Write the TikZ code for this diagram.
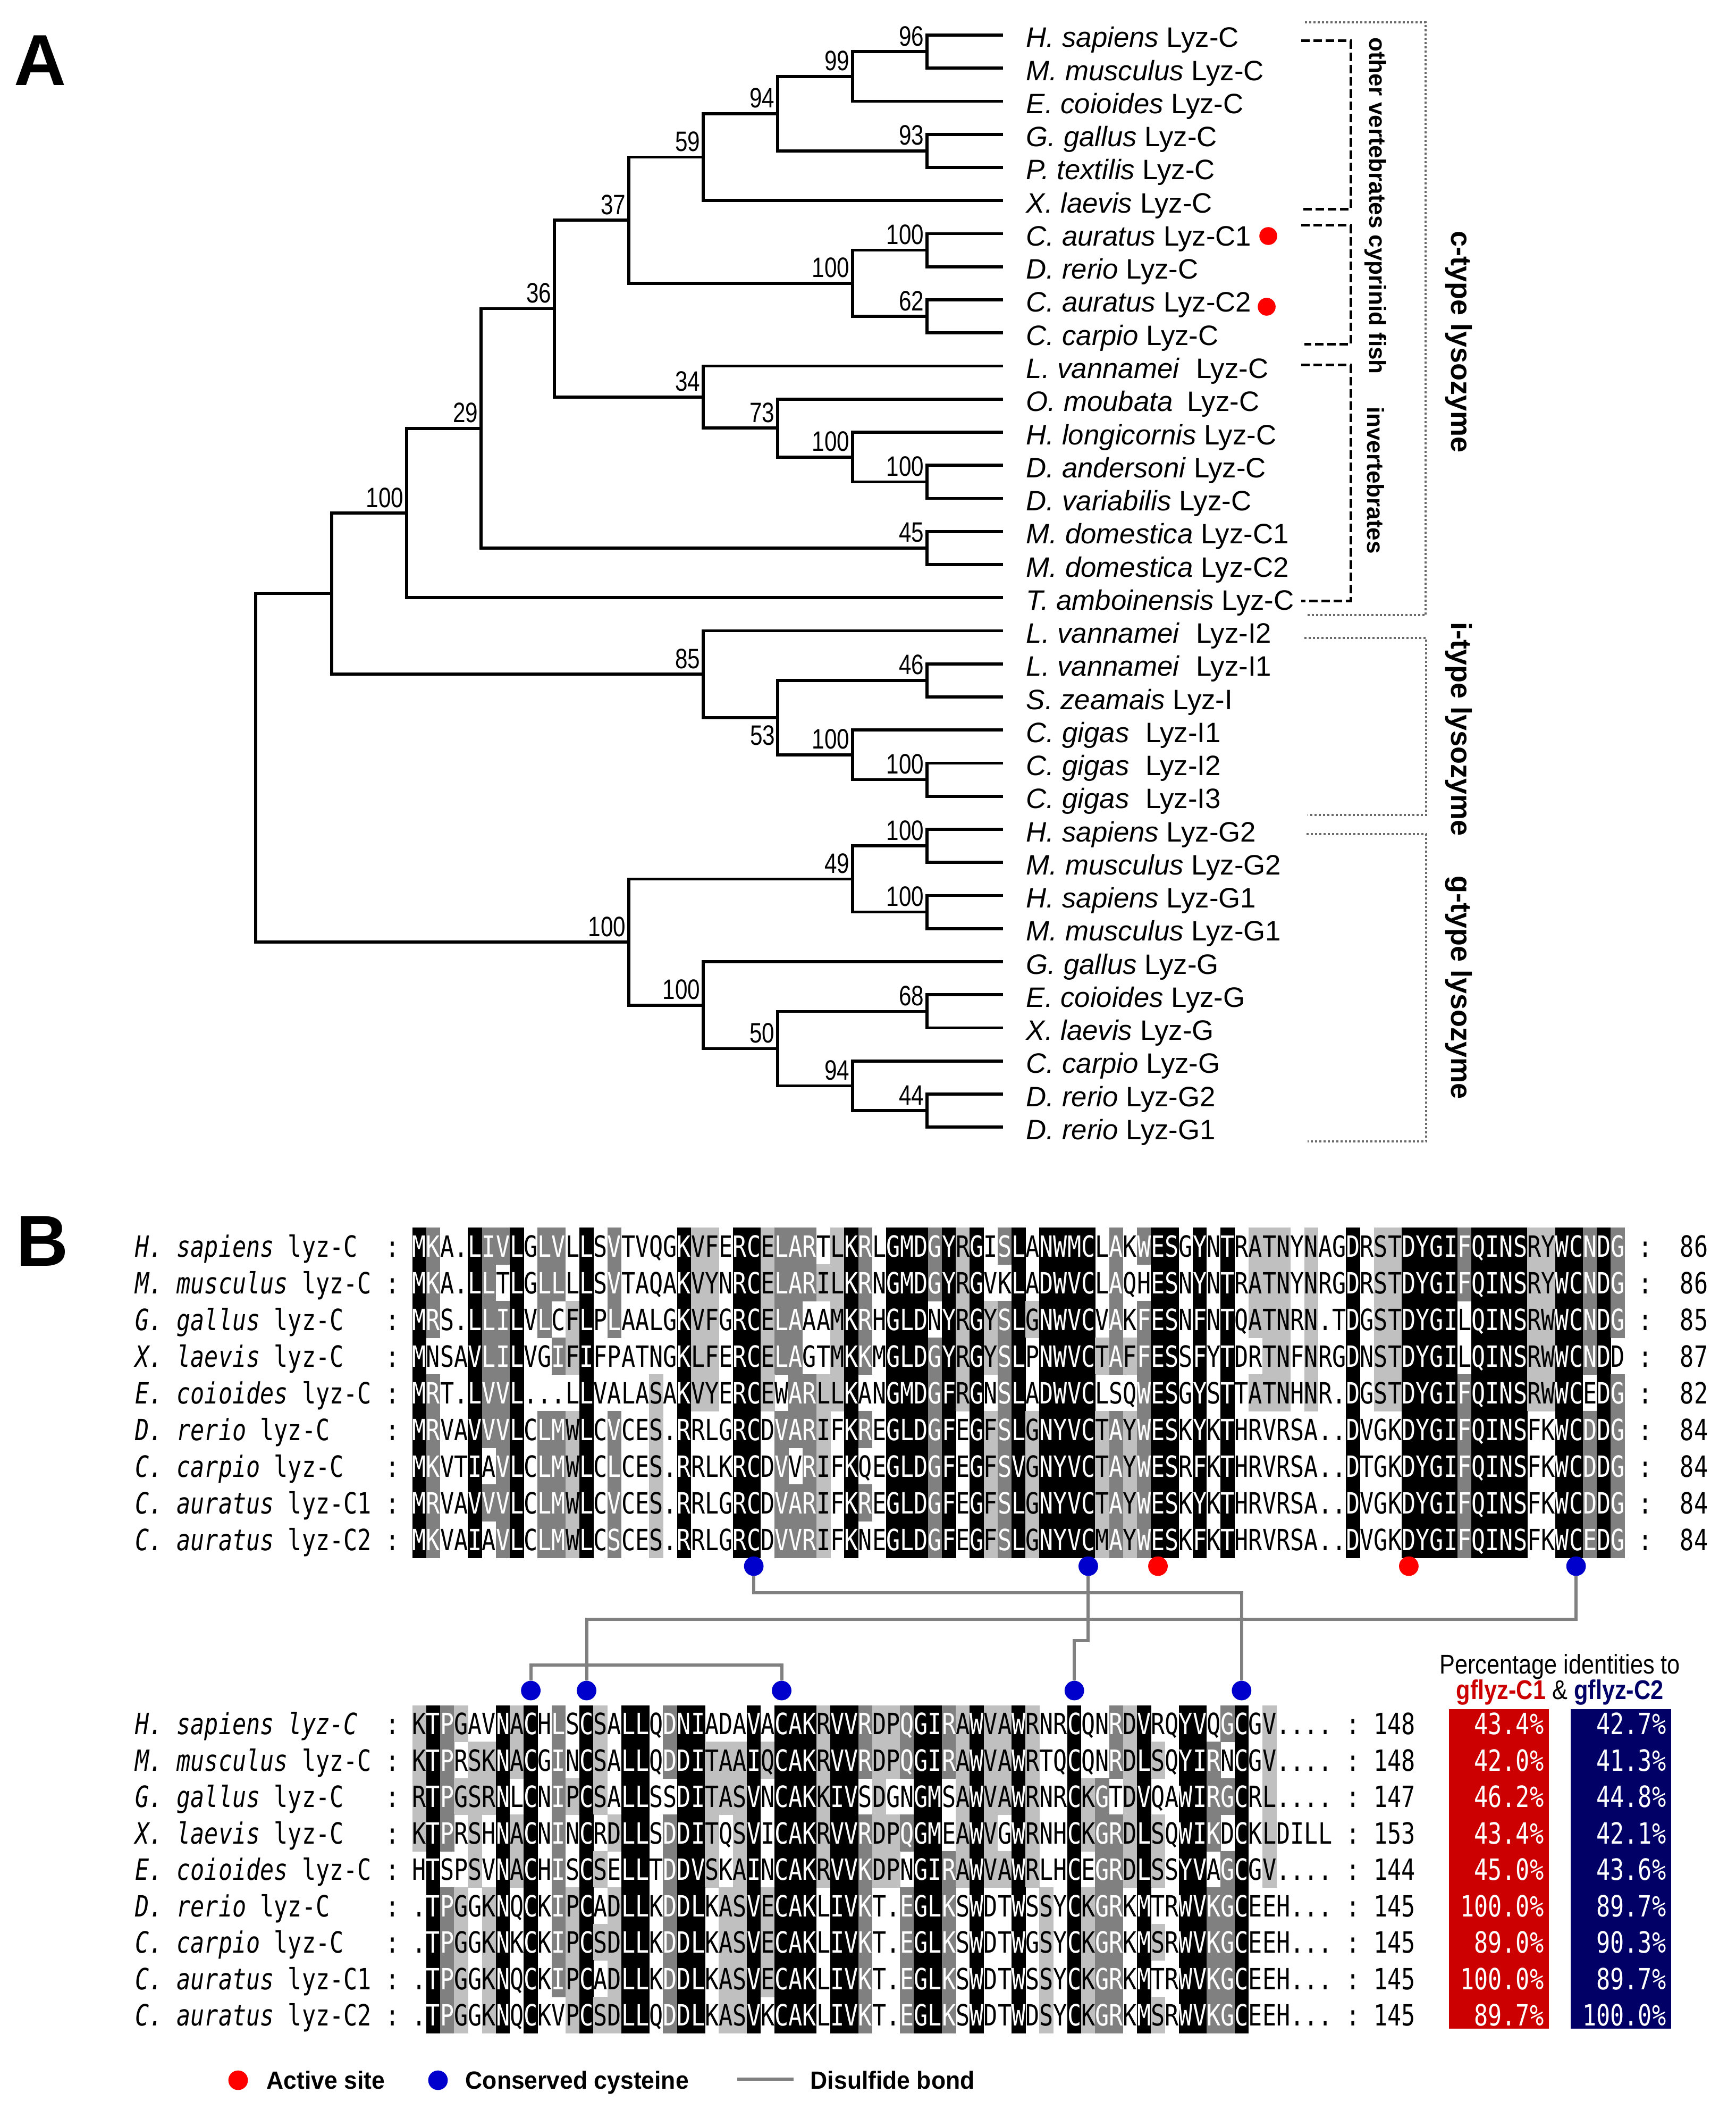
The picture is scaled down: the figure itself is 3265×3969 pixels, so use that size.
\documentclass[tikz,border=0pt]{standalone}
\usepackage{fontspec}
\setmainfont{Liberation Sans}
\newfontfamily\alnfont[FakeStretch=0.79]{DejaVu Sans Mono}
\newfontfamily\bsfont[FakeStretch=0.8]{Liberation Sans}
\newfontfamily\pctfont[FakeStretch=0.85]{Liberation Sans}
\newfontfamily\legfont[FakeStretch=0.95]{Liberation Sans}
\newcommand\alnsize{\fontsize{13.75pt}{15pt}\selectfont}

\definecolor{shadeL}{RGB}{192,192,192}
\definecolor{shadeD}{RGB}{128,128,128}
\definecolor{bondgray}{RGB}{128,128,128}
\definecolor{dotred}{RGB}{255,0,0}
\definecolor{dotblue}{RGB}{0,0,204}
\definecolor{boxred}{RGB}{204,0,0}
\definecolor{boxnavy}{RGB}{0,0,102}
\definecolor{dotgray}{RGB}{105,105,105}

\newcount\alncol
\def\alnxo{775.7}
\def\alnw{26.22}
\def\alnh{69}
\long\def\alngobble#1{}
\long\def\alnfirst#1{#1}
\newcommand\alnrow[4]{\alncol=0 \def\alny{#1}\def\alnid{#2}\alnloop#3\alnend#4\alnend}
\def\alnloop#1#2\alnend#3#4\alnend{%
  \alncell{#1}{#3}%
  \advance\alncol by 1\relax
  \ifx\relax#2\relax\expandafter\alngobble\else\expandafter\alnfirst\fi
  {\alnloop#2\alnend#4\alnend}}
\def\alncell#1#2{%
  \ifcase#2\relax\def\alnbg{white}\def\alnfg{black}%
  \or\def\alnbg{shadeL}\def\alnfg{black}%
  \or\def\alnbg{shadeD}\def\alnfg{white}%
  \else\def\alnbg{black}\def\alnfg{white}\fi
  \pgfmathsetmacro\alnx{\alnxo+\the\alncol*\alnw}%
  \ifnum#2>0\relax
    \fill[\alnbg] (\alnx-0.2,\alny-\alnh/2-0.3) rectangle (\alnx+\alnw+0.2,\alny+\alnh/2+0.3);%
  \fi
  \node[resid,text=\alnfg] (\alnid c\the\alncol) at (\alnx+\alnw/2,\alny) {#1};}

\newcommand\seqlab[7]{%
  \node[alnname] (#1name) at (253.4,#2+20) {\textit{#3} #4};
  \node[alncolon] (#1colA) at (738.5,#2+20) {:};
  \node[alncolon] (#1colB) at (#5,#2+20) {:};
  \node[alnnum] (#1num) at (#6,#2+20) {#7};}
\newcommand\pctlab[4]{%
  \node[pct] (#1pa) at (2905,#2+20) {#3};
  \node[pct] (#1pb) at (3135,#2+20) {#4};}

\begin{document}
\begin{tikzpicture}[x=0.25pt,y=-0.25pt,
  branch/.style={line width=1.4pt,line join=miter},
  leaflab/.style={anchor=base west,inner sep=0pt,font=\fontsize{13.2pt}{15pt}\selectfont},
  boot/.style={anchor=base east,inner sep=0pt,font=\bsfont\fontsize{13.2pt}{15pt}\selectfont},
  dashbr/.style={line width=1.25pt,dash pattern=on 4pt off 1.75pt},
  dotbr/.style={line width=1pt,dotgray,dash pattern=on 1pt off 1pt},
  brlab/.style={font=\bfseries\fontsize{11pt}{13pt}\selectfont,inner sep=0pt},
  typelab/.style={font=\bfseries\fontsize{13.5pt}{15pt}\selectfont,inner sep=0pt},
  resid/.style={font=\alnfont\alnsize,inner sep=0pt,text height=10pt,text depth=0pt},
  alnname/.style={font=\alnfont\alnsize,inner sep=0pt,anchor=base west},
  alncolon/.style={font=\alnfont\alnsize,inner sep=0pt,anchor=base},
  alnnum/.style={font=\alnfont\alnsize,inner sep=0pt,anchor=base east},
  pct/.style={font=\alnfont\alnsize,inner sep=0pt,anchor=base east,text=white},
  cysdot/.style={circle,fill=dotblue,minimum size=9.2pt,inner sep=0pt},
  actdot/.style={circle,fill=dotred,minimum size=9.2pt,inner sep=0pt},
  bond/.style={line width=1.5pt,bondgray},
  panel/.style={font=\bfseries\fontsize{34pt}{36pt}\selectfont,inner sep=0pt,anchor=base west},
  legtxt/.style={font=\legfont\bfseries\fontsize{11.7pt}{13pt}\selectfont,inner sep=0pt,anchor=base west},
  hdr/.style={font=\pctfont\fontsize{12.75pt}{14pt}\selectfont,inner sep=0pt,anchor=base}
]
\fill[white] (0,0) rectangle (3265,3969);
\path[use as bounding box] (0,0) rectangle (3265,3969);

% ---------------- Panel A : tree ----------------
\node[panel] (pA) at (26,161) {A};

\foreach \i/\yy/\spn/\gnm in {
 0/66/H. sapiens/Lyz-C, 1/128.25/M. musculus/Lyz-C, 2/190.5/E. coioides/Lyz-C,
 3/252.75/G. gallus/Lyz-C, 4/315/P. textilis/Lyz-C, 5/377.25/X. laevis/Lyz-C,
 6/439.5/C. auratus/Lyz-C1, 7/501.75/D. rerio/Lyz-C, 8/564/C. auratus/Lyz-C2,
 9/626.25/C. carpio/Lyz-C, 10/688.5/L. vannamei/\hspace{4pt}Lyz-C, 11/750.75/O. moubata/\hspace{3pt}Lyz-C,
 12/813/H. longicornis/Lyz-C, 13/875.25/D. andersoni/Lyz-C, 14/937.5/D. variabilis/Lyz-C,
 15/999.75/M. domestica/Lyz-C1, 16/1062/M. domestica/Lyz-C2, 17/1124.25/T. amboinensis/Lyz-C,
 18/1186.5/L. vannamei/\hspace{4pt}Lyz-I2, 19/1248.75/L. vannamei/\hspace{4pt}Lyz-I1, 20/1311/S. zeamais/Lyz-I,
 21/1373.25/C. gigas/\hspace{4pt}Lyz-I1, 22/1435.5/C. gigas/\hspace{4pt}Lyz-I2, 23/1497.75/C. gigas/\hspace{4pt}Lyz-I3,
 24/1560/H. sapiens/Lyz-G2, 25/1622.25/M. musculus/Lyz-G2, 26/1684.5/H. sapiens/Lyz-G1,
 27/1746.75/M. musculus/Lyz-G1, 28/1809/G. gallus/Lyz-G, 29/1871.25/E. coioides/Lyz-G,
 30/1933.5/X. laevis/Lyz-G, 31/1995.75/C. carpio/Lyz-G, 32/2058/D. rerio/Lyz-G2,
 33/2120.25/D. rerio/Lyz-G1}
{
  \coordinate (L\i) at (1887,\yy);
  \node[leaflab] (lab\i) at (1930,\yy+23) {\textit{\spn} \gnm};
}

\foreach \n/\x/\y/\b in {
 n96/1744/97.1/96, n99/1604/143.8/99, n93/1744/283.9/93, n94/1463/213.9/94,
 n59/1323/295.6/59, n100a/1744/470.6/100, n62/1744/595.1/62, n100b/1604/532.9/100,
 n37/1183/414.2/37, n100c/1744/906.4/100, n100d/1604/859.7/100, n73/1463/805.2/73,
 n34/1323/746.9/34, n36/1043/580.5/36, n45/1744/1030.9/45, n29/905/805.7/29,
 n100e/765/965/100, n46/1744/1279.9/46, n100f/1744/1466.6/100, n100g/1604/1419.9/100,
 n85/1323/1268.2/85, n100h/1744/1591.1/100, n100i/1744/1715.6/100, n49/1604/1653.4/49,
 n68/1744/1902.4/68, n44/1744/2089.1/44, n94b/1604/2042.4/94, n50/1463/1972.4/50,
 n100j/1323/1890.7/100, n100k/1183/1772.1/100}
{
  \coordinate (\n) at (\x,\y);
  \node[boot] (b\n) at (\x-5,\y-11) {\b};
}
\coordinate (n53) at (1463,1349.9);
\node[boot,anchor=north east] (bn53) at (1459,1364) {53};
\coordinate (nX) at (624,1116.6);
\coordinate (root) at (481,1444.3);

\foreach \p/\c in {root/nX, root/n100k, nX/n100e, nX/n85, n100e/n29, n100e/L17,
 n29/n36, n29/n45, n36/n37, n36/n34, n37/n59, n37/n100b, n59/n94, n59/L5,
 n94/n99, n94/n93, n99/n96, n99/L2, n96/L0, n96/L1, n93/L3, n93/L4,
 n100b/n100a, n100b/n62, n100a/L6, n100a/L7, n62/L8, n62/L9,
 n34/L10, n34/n73, n73/L11, n73/n100d, n100d/L12, n100d/n100c, n100c/L13, n100c/L14,
 n45/L15, n45/L16, n85/L18, n85/n53, n53/n46, n53/n100g, n46/L19, n46/L20,
 n100g/L21, n100g/n100f, n100f/L22, n100f/L23,
 n100k/n49, n100k/n100j, n49/n100h, n49/n100i, n100h/L24, n100h/L25, n100i/L26, n100i/L27,
 n100j/L28, n100j/n50, n50/n68, n50/n94b, n68/L29, n68/L30, n94b/L31, n94b/n44, n44/L32, n44/L33}
{ \draw[branch] (\p) |- (\c); }

\node[circle,fill=dotred,minimum size=8.4pt,inner sep=0pt] (rdC1) at (2386,444) {};
\node[circle,fill=dotred,minimum size=8.4pt,inner sep=0pt] (rdC2) at (2383,577) {};

% brackets
\draw[dashbr] (2448,77) -- (2541,77) -- (2541,394) -- (2448,394);
\draw[dashbr] (2448,424) -- (2541,424) -- (2541,648) -- (2454,648);
\draw[dashbr] (2448,687) -- (2541,687) -- (2541,1130) -- (2448,1130);
\draw[dotbr] (2455,42.5) -- (2682,42.5) -- (2682,1157) -- (2460,1157);
\draw[dotbr] (2454,1200) -- (2683,1200) -- (2683,1533) -- (2460,1533);
\draw[dotbr] (2458,1568.6) -- (2683,1568.6) -- (2683,2146.6) -- (2460,2146.6);

\node[brlab,rotate=-90] (lbOV) at (2588,387) {other vertebrates cyprinid fish};
\node[brlab,rotate=-90] (lbInv) at (2588,903.5) {invertebrates};
\node[typelab,rotate=-90] (lbC) at (2744,643.5) {c-type lysozyme};
\node[typelab,rotate=-90] (lbI) at (2744,1372) {i-type lysozyme};
\node[typelab,rotate=-90] (lbG) at (2744,1858) {g-type lysozyme};

% ---------------- Panel B : alignment ----------------
\node[panel] (pB) at (30,2381) {B};

\def\alnh{69}
\alnrow{2344}{ta}{MKA.LIVLGL VLLSVTVQGK VFERCELART LKRLGMDGYR GISLANWMCL AKWESGYNTR ATNYNAGDRS TDYGIFQINS RYWCNDG}{3200322302 2030200003 1103312220 1320333231 3023033330 2023303030 1110100301 1333323333 1133232}
\alnrow{2413}{tb}{MKA.LLTLGL LLLSVTAQAK VYNRCELARI LKRNGMDGYR GVKLADWVCL AQHESNYNTR ATNYNRGDRS TDYGIFQINS RYWCNDG}{3200320302 2030200003 1103312221 1320333231 3003033330 2003303030 1110100301 1333323333 1133232}
\alnrow{2482}{tc}{MRS.LLILVL CFLPLAALGK VFGRCELAAA MKRHGLDNYR GYSLGNWVCV AKFESNFNTQ ATNRN.TDGS TDYGILQINS RWWCNDG}{3200322302 0130200003 1103312200 1320333031 3123133330 2023303030 1110100301 1333303333 1133232}
\alnrow{2551}{td}{MNSAVLILVG IFIFPATNGK LFERCELAGT MKKMGLDGYR GYSLPNWVCT AFFESSFYTD RTNFNRGDNS TDYGILQINS RWWCNDD}{3000322300 2130000003 1103312200 1320333231 3123033331 2123303030 0110100301 1333303333 1133230}
\alnrow{2620}{te}{MRT.LVVL.. .LLVALASAK VYERCEWARL LKANGMDGFR GNSLADWVCL SQWESGYSTT ATNHNR.DGS TDYGIFQINS RWWCEDG}{3200322300 0030000103 1103310221 1300333231 3023033330 0023303030 1110100301 1333323333 1133032}
\alnrow{2689}{tf}{MRVAVVVLCL MWLCVCES.R RLGRCDVARI FKREGLDGFE GFSLGNYVCT AYWESKYKTH RVRSA..DVG KDYGIFQINS FKWCDDG}{3200322302 2130200103 0003302221 0320333230 3123133331 2123303030 0000000300 0333323333 0033232}
\alnrow{2758}{tg}{MKVTIAVLCL MWLCLCES.R RLKRCDVVRI FKQEGLDGFE GFSVGNYVCT AYWESRFKTH RVRSA..DTG KDYGIFQINS FKWCDDG}{3200302302 2130200103 0003302021 0300333230 3123133331 2123303030 0000000300 0333323333 0033232}
\alnrow{2827}{th}{MRVAVVVLCL MWLCVCES.R RLGRCDVARI FKREGLDGFE GFSLGNYVCT AYWESKYKTH RVRSA..DVG KDYGIFQINS FKWCDDG}{3200322302 2130200103 0003302221 0320333230 3123133331 2123303030 0000000300 0333323333 0033232}
\alnrow{2896}{ti}{MKVAIAVLCL MWLCSCES.R RLGRCDVVRI FKNEGLDGFE GFSLGNYVCM AYWESKFKTH RVRSA..DVG KDYGIFQINS FKWCEDG}{3200302302 2130200103 0003302221 0300333230 3123133331 2123303030 0000000300 0333323333 0033232}

\seqlab{ta}{2344}{H. sapiens}{lyz-C}{3096}{3214}{86}
\seqlab{tb}{2413}{M. musculus}{lyz-C}{3096}{3214}{86}
\seqlab{tc}{2482}{G. gallus}{lyz-C}{3096}{3214}{85}
\seqlab{td}{2551}{X. laevis}{lyz-C}{3096}{3214}{87}
\seqlab{te}{2620}{E. coioides}{lyz-C}{3096}{3214}{82}
\seqlab{tf}{2689}{D. rerio}{lyz-C}{3096}{3214}{84}
\seqlab{tg}{2758}{C. carpio}{lyz-C}{3096}{3214}{84}
\seqlab{th}{2827}{C. auratus}{lyz-C1}{3096}{3214}{84}
\seqlab{ti}{2896}{C. auratus}{lyz-C2}{3096}{3214}{84}

\node[cysdot] (tdA) at (1418.1,2946) {};
\node[cysdot] (tdB) at (2047.4,2946) {};
\node[cysdot] (tdC) at (2965.1,2946) {};
\node[actdot] (trA) at (2178.5,2946) {};
\node[actdot] (trB) at (2650.4,2946) {};

\def\alnh{68.5}
\alnrow{3242.5}{ba}{KTPGAVNACH LSCSALLQDN IADAVACAKR VVRDPQGIRA WVAWRNRCQN RDVRQYVQGC GV....}{1321003130 2031033023 3000303331 3321123321 3113100300 2130033023 010000}
\alnrow{3311}{bb}{KTPRSKNACG INCSALLQDD ITAAIQCAKR VVRDPQGIRA WVAWRTQCQN RDLSQYIRNC GV....}{1320113130 2031033023 3111313331 3321123321 3113100300 2131033203 010000}
\alnrow{3379.5}{bc}{RTPGSRNLCN IPCSALLSSD ITASVNCAKK IVSDGNGMSA WVAWRNRCKG TDVQAWIRGC RL....}{1321113030 2131033003 3111303331 3301003301 3113100312 0130033223 010000}
\alnrow{3448}{bd}{KTPRSHNACN INCRDLLSDD ITQSVICAKR VVRDPQGMEA WVGWRNHCKG RDLSQWIKDC KLDILL}{1320103130 2030133023 3101303331 3321123301 3103100312 2131033203 010000}
\alnrow{3516.5}{be}{HTSPSVNACH ISCSELLTDD VSKAINCAKR VVKDPNGIRA WVAWRLHCEG RDLSSYVAGC GV....}{0300103130 2031033023 3101303331 3321103321 3113100302 2131033023 010000}
\alnrow{3585}{bf}{.TPGGKNQCK IPCADLLKDD LKASVECAKL IVKT.EGLKS WDTWSSYCKG RKMTRWVKGC EEH...}{0321013030 2130133023 3011313330 3320023320 3003010312 2030033223 000000}
\alnrow{3653.5}{bg}{.TPGGKNKCK IPCSDLLKDD LKASVECAKL IVKT.EGLKS WDTWGSYCKG RKMSRWVKGC EEH...}{0321013030 2131133023 3011313330 3320023320 3003010312 2031033223 000000}
\alnrow{3722}{bh}{.TPGGKNQCK IPCADLLKDD LKASVECAKL IVKT.EGLKS WDTWSSYCKG RKMTRWVKGC EEH...}{0321013030 2130133023 3011313330 3320023320 3003010312 2030033223 000000}
\alnrow{3790.5}{bi}{.TPGGKNQCK VPCSDLLQDD LKASVKCAKL IVKT.EGLKS WDTWDSYCKG RKMSRWVKGC EEH...}{0321013030 0131133023 3011303330 3320023320 3003010312 2031033223 000000}

\seqlab{ba}{3242.5}{H. sapiens}{\textit{lyz-C}}{2545.5}{2663.5}{148}
\seqlab{bb}{3311}{M. musculus}{lyz-C}{2545.5}{2663.5}{148}
\seqlab{bc}{3379.5}{G. gallus}{lyz-C}{2545.5}{2663.5}{147}
\seqlab{bd}{3448}{X. laevis}{lyz-C}{2545.5}{2663.5}{153}
\seqlab{be}{3516.5}{E. coioides}{lyz-C}{2545.5}{2663.5}{144}
\seqlab{bf}{3585}{D. rerio}{lyz-C}{2545.5}{2663.5}{145}
\seqlab{bg}{3653.5}{C. carpio}{lyz-C}{2545.5}{2663.5}{145}
\seqlab{bh}{3722}{C. auratus}{lyz-C1}{2545.5}{2663.5}{145}
\seqlab{bi}{3790.5}{C. auratus}{lyz-C2}{2545.5}{2663.5}{145}

\node[cysdot] (bd9) at (998.6,3180) {};
\node[cysdot] (bd13) at (1103.5,3180) {};
\node[cysdot] (bd27) at (1470.5,3180) {};
\node[cysdot] (bd48) at (2021.2,3180) {};
\node[cysdot] (bd60) at (2335.8,3180) {};

% disulfide bonds
\draw[bond] (tdA) -- (tdA |- 0,2996) -| (bd60);
\draw[bond] (tdC) -- (tdC |- 0,3046) -| (bd13);
\draw[bond] (tdB) -- (tdB |- 0,3086) -| (bd48);
\draw[bond] (bd9) -- (bd9 |- 0,3132) -| (bd27);

% percentage identities
\fill[boxred] (2725.5,3214.6) rectangle (2914,3816);
\fill[boxnavy] (2954.5,3214.6) rectangle (3143.7,3816);
\node[hdr] (hdr1) at (2934.6,3148) {Percentage identities to};
\node[hdr] (hdr2) at (2934.6,3196) {\textbf{\color{boxred}gflyz-C1} \& \textbf{\color{boxnavy}gflyz-C2}};
\pctlab{ba}{3242.5}{43.4\%}{42.7\%}
\pctlab{bb}{3311}{42.0\%}{41.3\%}
\pctlab{bc}{3379.5}{46.2\%}{44.8\%}
\pctlab{bd}{3448}{43.4\%}{42.1\%}
\pctlab{be}{3516.5}{45.0\%}{43.6\%}
\pctlab{bf}{3585}{100.0\%}{89.7\%}
\pctlab{bg}{3653.5}{89.0\%}{90.3\%}
\pctlab{bh}{3722}{100.0\%}{89.7\%}
\pctlab{bi}{3790.5}{89.7\%}{100.0\%}

% legend
\node[actdot] (legR) at (448,3913) {};
\node[legtxt] (legRt) at (501,3929) {Active site};
\node[cysdot] (legB) at (824,3913) {};
\node[legtxt] (legBt) at (875,3929) {Conserved cysteine};
\coordinate (legL1) at (1387,3911);
\coordinate (legL2) at (1493,3911);
\draw[bond] (legL1) -- (legL2);
\node[legtxt] (legLt) at (1524,3929) {Disulfide bond};
\end{tikzpicture}
\end{document}
